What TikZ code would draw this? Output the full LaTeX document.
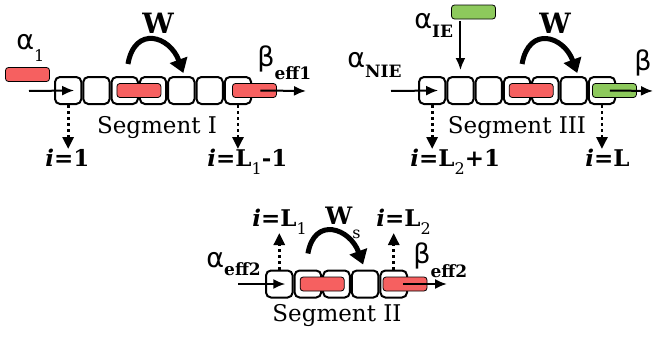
\documentclass[tikz,border=0pt]{standalone}
\usepackage{fontspec}
\setmainfont{DejaVu Serif}
\newfontfamily\grk{DejaVu Sans}
\usetikzlibrary{arrows.meta, positioning}
\definecolor{barred}{RGB}{246,96,96}
\definecolor{bargreen}{RGB}{141,201,92}
\newcommand\gr[1]{{\grk\fontsize{13.5}{13.5}\selectfont #1}}
\newcommand\sbs[2][5pt]{\raisebox{-#1}{\fontsize{8.5}{8.5}\selectfont\bfseries #2}}
\newcommand\sbn[2][4pt]{\raisebox{-#1}{\fontsize{8}{8}\selectfont\mdseries #2}}
\tikzset{
  cell/.style={rectangle,draw,rounded corners=2.5pt,line width=1pt,minimum width=13.15pt,minimum height=13.5pt,inner sep=0pt},
  cellb/.style={cell,minimum width=13.3pt},
  redbar/.style={rectangle,draw,rounded corners=1.5pt,line width=0.4pt,fill=barred,minimum width=22pt,minimum height=7pt,inner sep=0pt},
  greenbar/.style={redbar,fill=bargreen},
  lbl/.style={anchor=base west,inner sep=0pt},
  ilbl/.style={lbl,font=\fontsize{11.5}{13}\selectfont\bfseries},
  seglbl/.style={anchor=base,inner sep=0pt,font=\fontsize{11.5}{13}\selectfont},
  line/.style={-{Latex[length=6pt,width=5pt]},line width=1pt},
  dotline/.style={-{Triangle[length=6pt,width=5.5pt]},line width=1.4pt,dash pattern=on 1.5pt off 1.5pt},
  hop/.style={-{Triangle[length=7pt,width=9pt]},line width=2.5pt}
}

\begin{document}
\begin{tikzpicture}[x=0.5pt,y=-0.5pt]
\useasboundingbox (0,0) rectangle (654,337);
% segment I
\node[cell] (s1a) at (68.15,90.5) {};
\node[cell, right=0pt of s1a] (s1b) {};
\node[cell, right=0pt of s1b] (s1c) {};
\node[cell, right=0pt of s1c] (s1d) {};
\node[cell, right=0pt of s1d] (s1e) {};
\node[cell, right=0pt of s1e] (s1f) {};
\node[cell, right=0pt of s1f] (s1g) {};
\node[redbar] (r1in) at (27.5,74.5) {};
\node[redbar] (r1a) at (s1c.east) {};
\node[redbar] (r1b) at ([xshift=8.25pt]s1g.center) {};
\coordinate (s1in) at (29,91);
\coordinate (s1out) at (306,91);
\draw[line] (s1in) -- ([xshift=3pt]s1a.center);
\draw[line] ([xshift=3pt]r1b.center) -- (s1out);
\node[lbl] (a1) at (16,49) {\gr{α}\sbn[6pt]{1}};
\node[lbl] (b1) at (257,67) {\gr{β}\sbs[6pt]{eff1}};
\node[anchor=base,inner sep=0pt,font=\fontsize{14}{14}\selectfont\bfseries] (w1) at (158,33) {W};
\draw[hop] ([shift={(1.6pt,6pt)}]s1c.north) to[out=80,in=110,looseness=1.8] ([shift={(1pt,1.5pt)}]s1e.north);
\node[seglbl] (seg1) at (157,133) {Segment I};
\node[ilbl] (i1) at (45,166) {\textit{i}=1};
\node[ilbl] (i2) at (207,166) {\textit{i}=L\sbn{1}-1};
\draw[dotline, shorten >=8.5pt] (s1a.south) -- (s1a.south |- i1.base);
\draw[dotline, shorten >=8.5pt] (s1g.south) -- (s1g.south |- i2.base);

% segment III
\node[cell] (s3a) at (432.15,90.5) {};
\node[cell, right=0pt of s3a] (s3b) {};
\node[cell, right=0pt of s3b] (s3c) {};
\node[cell, right=0pt of s3c] (s3d) {};
\node[cell, right=0pt of s3d] (s3e) {};
\node[cell, right=0pt of s3e] (s3f) {};
\node[cell, right=0pt of s3f] (s3g) {};
\node[greenbar] (g3in) at (473.5,12) {};
\node[redbar] (r3a) at (s3d.east) {};
\node[greenbar] (g3b) at ([xshift=6.25pt]s3g.center) {};
\coordinate (s3in) at (391,91);
\coordinate (s3out) at (653,91);
\draw[line] (s3in) -- ([xshift=3pt]s3a.center);
\draw[line] ([xshift=4pt]s3g.center) -- (s3out);
\draw[line, shorten <=1pt, shorten >=3pt] (g3in.south -| s3b) -- (s3b.north);
\node[lbl] (a3) at (414,28) {\gr{α}\sbs[5pt]{IE}};
\node[lbl] (a3n) at (347,68) {\gr{α}\sbs[5pt]{NIE}};
\node[lbl] (b3) at (634,70) {\gr{β}};
\node[anchor=base,inner sep=0pt,font=\fontsize{14}{14}\selectfont\bfseries] (w3) at (555,33) {W};
\draw[hop] ([shift={(2.5pt,6pt)}]s3d.north) to[out=80,in=110,looseness=1.8] ([shift={(1.8pt,1.5pt)}]s3f.north);
\node[seglbl] (seg3) at (517,133) {Segment III};
\node[ilbl] (i3) at (410,166) {\textit{i}=L\sbn{2}+1};
\node[ilbl] (i4) at (585,166) {\textit{i}=L};
\draw[dotline, shorten >=8.5pt] (s3a.south) -- (s3a.south |- i3.base);
\draw[dotline, shorten >=8.5pt] (s3g.south) -- (s3g.south |- i4.base);

% segment II
\node[cellb] (s2a) at (279.3,284) {};
\node[cellb, right=0pt of s2a] (s2b) {};
\node[cellb, right=0pt of s2b] (s2c) {};
\node[cellb, right=0pt of s2c] (s2d) {};
\node[cellb, right=0pt of s2d] (s2e) {};
\node[redbar] (r2a) at (s2b.east) {};
\node[redbar] (r2b) at ([xshift=5.65pt]s2e.center) {};
\coordinate (s2in) at (238,284);
\coordinate (s2out) at (447,284);
\draw[line] (s2in) -- ([xshift=3pt]s2a.center);
\draw[line] ([xshift=-1pt]r2b.center) -- (s2out);
\node[lbl] (a2) at (206,267) {\gr{α}\sbs[4pt]{eff2}};
\node[lbl] (b2) at (413,263) {\gr{β}\sbs[7pt]{eff2}};
\node[lbl,font=\fontsize{12}{13}\selectfont\bfseries] (w2) at (325,224) {W\sbn[7pt]{s}};
\draw[hop] ([shift={(0pt,8pt)}]s2b.north) to[out=80,in=110,looseness=1.75] ([shift={(-1pt,2.5pt)}]s2d.north);
\node[seglbl] (seg2) at (337,321) {Segment II};
\node[ilbl] (i5) at (252,226) {\textit{i}=L\sbn{1}};
\node[ilbl] (i6) at (376,226) {\textit{i}=L\sbn{2}};
\draw[dotline, shorten >=3.5pt] (s2a.north) -- (s2a.north |- i5.base);
\draw[dotline, shorten >=3.5pt] (s2e.north) -- (s2e.north |- i6.base);
\end{tikzpicture}
\end{document}
